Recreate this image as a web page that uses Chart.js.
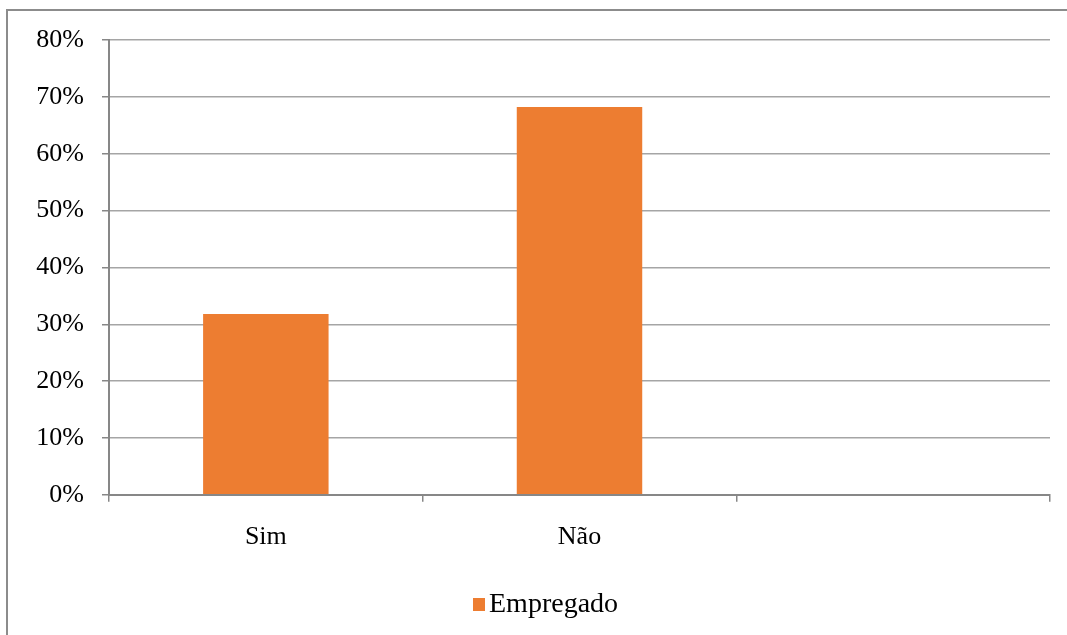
<!DOCTYPE html>
<html>
<head>
<meta charset="utf-8">
<script src="https://cdn.jsdelivr.net/npm/chart.js@4.4.1/dist/chart.umd.min.js"></script>
<style>
    html, body { margin: 0; padding: 0; background: #fff; overflow: hidden; }
    .frame {
        position: absolute; left: 6px; top: 9px; width: 1100px; height: 700px;
        border-left: 2px solid #8c8c8c; border-top: 2px solid #8c8c8c;
    }
    .chart-box { position: absolute; left: 0; top: 0; width: 1067px; height: 635px; }
    .legend {
        position: absolute; left: 473px; top: 588px; height: 30px;
        font-family: "Liberation Serif", "Times New Roman", serif; font-size: 28px;
        line-height: 30px; color: #000; white-space: nowrap;
    }
    .legend .swatch {
        display: inline-block; width: 12px; height: 13px; margin-right: 4px;
        vertical-align: 1px;
    }
</style>
</head>
<body>
<div class="frame"></div>
<div class="chart-box"><canvas id="chart" width="1067" height="635"></canvas></div>
<div class="legend" id="legend"></div>
<script>
const categories = ['Sim', 'Não', ''];
const seriesName = 'Empregado';
const empregado = [31.8, 68.2, null];
const yTicks = [0, 10, 20, 30, 40, 50, 60, 70, 80];

const serif = '"Liberation Serif", "Times New Roman", serif';
const orange = '#ed7d31';
const axisGray = '#878787';
const gridGray = '#a5a5a5';

const data = {
    labels: categories,
    datasets: [{
        label: seriesName,
        data: empregado,
        backgroundColor: orange,
        borderWidth: 0,
        categoryPercentage: 1,
        barPercentage: 0.4
    }]
};

const config = {
    type: 'bar',
    data: data,
    options: {
        responsive: false,
        animation: false,
        devicePixelRatio: 1,
        layout: {
            padding: { left: 30, right: 17, top: 40, bottom: 62 }
        },
        plugins: {
            tooltip: { enabled: false },
            legend: { display: false }
        },
        scales: {
            x: {
                offset: true,
                grid: {
                    offset: true,
                    drawOnChartArea: false,
                    drawTicks: true,
                    tickLength: 7,
                    color: axisGray,
                    lineWidth: 1.5
                },
                border: { color: axisGray, width: 2 },
                ticks: {
                    color: '#000',
                    padding: 20,
                    font: { family: serif, size: 26 }
                }
            },
            y: {
                min: 0,
                max: 80,
                afterBuildTicks: (axis) => {
                    axis.ticks = yTicks.map(v => ({ value: v }));
                },
                afterFit: (axis) => {
                    axis.width = 79;
                },
                grid: {
                    color: gridGray,
                    lineWidth: 1.5,
                    tickLength: 7,
                    tickColor: axisGray
                },
                border: { color: axisGray, width: 2 },
                ticks: {
                    color: '#000',
                    padding: 18,
                    font: { family: serif, size: 26 },
                    callback: (v) => v + '%'
                }
            }
        }
    }
};

const myChart = new Chart(document.getElementById('chart'), config);

// legend from the dataset itself
const legend = document.getElementById('legend');
myChart.data.datasets.forEach((ds) => {
    const swatch = document.createElement('span');
    swatch.className = 'swatch';
    swatch.style.background = ds.backgroundColor;
    legend.appendChild(swatch);
    legend.appendChild(document.createTextNode(ds.label));
});
</script>
</body>
</html>
